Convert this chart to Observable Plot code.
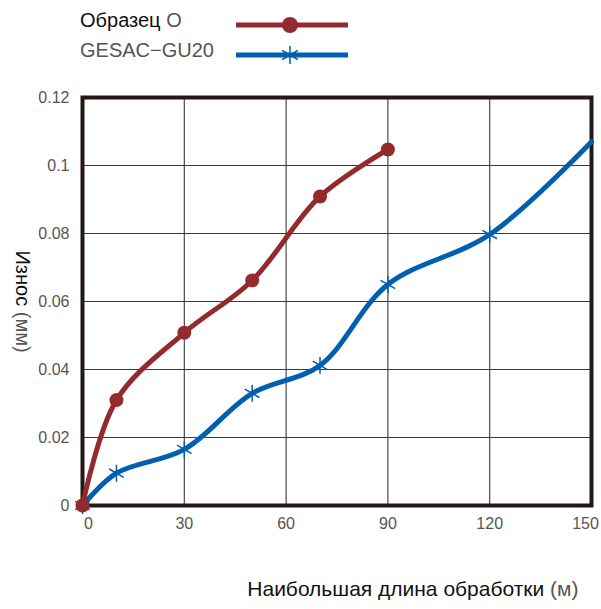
<!DOCTYPE html>
<html>
<head>
<meta charset="utf-8">
<script src="https://cdn.jsdelivr.net/npm/d3@7"></script>
<script src="https://cdn.jsdelivr.net/npm/@observablehq/plot@0.6"></script>
<style>
  body { margin: 0; background: #fff; font-family: "Liberation Sans", Arial, sans-serif; }
  #legend { position: relative; width: 601px; height: 72px; }
  #legend .lab { position: absolute; left: 80px; font-size: 20px; line-height: 1; white-space: nowrap; }
  #legend svg { position: absolute; left: 0; top: 0; }
</style>
</head>
<body>
<div id="legend"></div>
<div id="chart"></div>
<script>
// ---- data ----
const seriesNames = ["Образец О", "GESAC−GU20"];
const sampleX = [0, 10, 30, 50, 70, 90];
const sampleY = [0, 0.031, 0.0508, 0.0662, 0.0909, 0.1047];
const gesacX = [0, 10, 30, 50, 70, 90, 120, 150];
const gesacY = [0, 0.0095, 0.0165, 0.033, 0.0412, 0.065, 0.0797, 0.107];
const gesacMarked = [true, true, true, true, true, true, true, false];
const xTicks = [0, 30, 60, 90, 120, 150];
const xTickLabels = ["0", "30", "60", "90", "120", "150"];
const yTicks = [0, 0.02, 0.04, 0.06, 0.08, 0.1, 0.12];
const yTickLabels = ["0", "0.02", "0.04", "0.06", "0.08", "0.1", "0.12"];
const xLabel = "Наибольшая длина обработки (м)";
const yLabel = "Износ (мм)";

const red = "#952a2e";
const blue = "#005fb0";
const gray = "#555";

const sample = sampleX.map((x, i) => ({x, y: sampleY[i]}));
const gesac = gesacX.map((x, i) => ({x, y: gesacY[i], m: gesacMarked[i]}));
const xFmt = d => xTickLabels[xTicks.indexOf(d)];
const yFmt = d => yTickLabels[yTicks.findIndex(t => Math.abs(t - d) < 1e-9)];

// ---- legend ----
const legend = document.getElementById("legend");
legend.innerHTML = `
<svg width="601" height="72">
  <line x1="236" x2="348" y1="25" y2="25" stroke="${red}" stroke-width="5"/>
  <circle cx="290" cy="25" r="8" fill="${red}"/>
  <line x1="236" x2="348" y1="55" y2="55" stroke="${blue}" stroke-width="5"/>
  <g stroke="${blue}" stroke-width="1.5" transform="translate(290,55)">
    <line x1="0" y1="-9" x2="0" y2="9"/>
    <line x1="-7.8" y1="-4.5" x2="7.8" y2="4.5"/>
    <line x1="-7.8" y1="4.5" x2="7.8" y2="-4.5"/>
  </g>
</svg>
<div class="lab" style="top:10px;color:#111">Образец <span style="color:${gray}">О</span></div>
<div class="lab" style="top:40px;color:${gray}">${seriesNames[1]}</div>`;

// ---- chart ----
const axisStyle = {tickSize: 0, fontSize: 16, fill: gray, label: null};
const chart = Plot.plot({
  width: 601,
  height: 537,
  marginTop: 25,
  marginLeft: 82,
  marginRight: 10,
  marginBottom: 104,
  style: {fontFamily: "'Liberation Sans', Arial, sans-serif", fontSize: "16px", color: gray, background: "#fff", overflow: "visible"},
  x: {domain: [0, 150]},
  y: {domain: [0, 0.12]},
  marks: [
    Plot.ruleX(xTicks.slice(1, -1), {stroke: "#3a3a3a", strokeWidth: 1.1}),
    Plot.ruleY(yTicks.slice(1, -1), {stroke: "#3a3a3a", strokeWidth: 1.1}),
    Plot.frame({stroke: "#231815", strokeWidth: 4}),
    Plot.axisX({...axisStyle, ticks: xTicks.slice(1, -1), tickFormat: xFmt, tickPadding: 12}),
    Plot.axisX({...axisStyle, ticks: [xTicks[0]], tickFormat: xFmt, tickPadding: 12, dx: 6}),
    Plot.axisX({...axisStyle, ticks: [xTicks[xTicks.length - 1]], tickFormat: xFmt, tickPadding: 12, dx: -6}),
    Plot.axisY({...axisStyle, ticks: yTicks, tickFormat: yFmt, tickPadding: 13}),
    Plot.line(gesac, {x: "x", y: "y", stroke: blue, strokeWidth: 5, curve: "catmull-rom"}),
    Plot.dot(gesac.filter(d => d.m), {x: "x", y: "y", symbol: "asterisk", r: 8, stroke: blue, strokeWidth: 1.5}),
    Plot.line(sample, {x: "x", y: "y", stroke: red, strokeWidth: 5, curve: "catmull-rom"}),
    Plot.dot(sample, {x: "x", y: "y", r: 7, fill: red}),
    Plot.text([xLabel], {frameAnchor: "bottom-right", dx: -13, dy: 90, textAnchor: "end", fontSize: 21, fill: "#111"}),
    Plot.text([yLabel], {frameAnchor: "left", dx: -60, rotate: 90, textAnchor: "middle", fontSize: 20, fill: "#111"})
  ]
});
document.getElementById("chart").appendChild(chart);

// colour the unit parts grey
d3.select(chart).selectAll("text").each(function() {
  const t = this.textContent;
  if (t === xLabel || t === yLabel) {
    const idx = t.indexOf("(");
    const sel = d3.select(this);
    sel.text(null);
    sel.append("tspan").text(t.slice(0, idx));
    sel.append("tspan").attr("fill", gray).text(t.slice(idx));
  }
});
</script>
</body>
</html>
